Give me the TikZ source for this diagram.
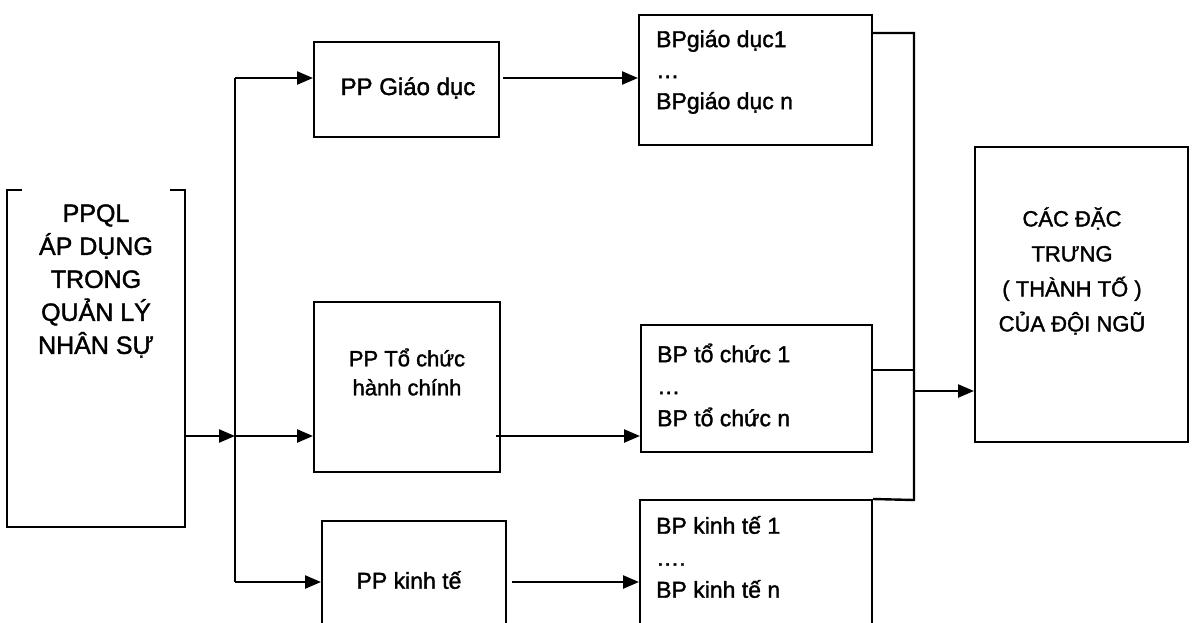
\documentclass[tikz,border=0pt]{standalone}
\usepackage{fontspec}
\setmainfont{Liberation Sans}[FakeBold=1.5]
\usetikzlibrary{arrows.meta}
\begin{document}
\begin{tikzpicture}[x=1pt,y=-1pt,
  box/.style={draw, line width=2pt, rectangle, inner sep=0pt},
  ghost/.style={rectangle, inner sep=0pt},
  txt/.style={inner sep=0pt, align=center},
  ltxt/.style={inner sep=0pt, align=left, anchor=west},
  ln/.style={line width=2.4pt},
  arr/.style={line width=2.4pt, -{Triangle[length=16pt,width=13pt]}}]
\useasboundingbox (0,0) rectangle (1194,622);
\clip (0,0) rectangle (1194,622);
\fill[white] (0,0) rectangle (1194,622);

% left box (top edge broken)
\node[ghost, minimum width=178pt, minimum height=337pt] (L) at (96,358.5) {};
\draw[line width=2pt] ([xshift=15pt]L.north west) -- (L.north west) -- (L.south west) -- (L.south east) -- (L.north east) -- ([xshift=-15pt]L.north east);
\node[txt, font=\fontsize{25}{33}\selectfont] (Lt) at (96,281) {PPQL\\ÁP DỤNG\\TRONG\\QUẢN LÝ\\NHÂN SỰ};

% PP boxes
\node[box, minimum width=185pt, minimum height=95pt] (G) at (406.5,89.5) {};
\node[txt, font=\fontsize{24}{29}\selectfont] (Gt) at (408,88) {PP Giáo dục};
\node[box, minimum width=186pt, minimum height=170pt] (T) at (407,387) {};
\node[txt, font=\fontsize{22}{29}\selectfont] (Tt) at (407,372) {PP Tổ chức\\hành chính};
\node[box, minimum width=184pt, minimum height=140pt] (K) at (414,591) {};
\node[txt, font=\fontsize{23}{29}\selectfont] (Kt) at (409,580) {PP kinh tế};

% BP boxes
\node[box, minimum width=233pt, minimum height=130pt] (BG) at (755.5,80) {};
\node[ltxt, font=\fontsize{23}{31}\selectfont] (BGt) at (656,72) {BPgiáo dục1\\…\\BPgiáo dục n};
\node[box, minimum width=231pt, minimum height=127pt] (BT) at (756.5,388.5) {};
\node[ltxt, font=\fontsize{23}{32}\selectfont] (BTt) at (657,385) {BP tổ chức 1\\…\\BP tổ chức n};
\node[box, minimum width=232pt, minimum height=150pt] (BK) at (756,575) {};
\node[ltxt, font=\fontsize{23}{32}\selectfont] (BKt) at (656,557) {BP kinh tế 1\\….\\BP kinh tế n};

% right box
\node[box, minimum width=213pt, minimum height=295pt] (R) at (1081.5,294.5) {};
\node[txt, font=\fontsize{22}{35}\selectfont] (Rt) at (1072,271) {CÁC ĐẶC\\TRƯNG\\( THÀNH TỐ )\\CỦA ĐỘI NGŨ};

% junctions
\coordinate (J1) at (235,78);
\coordinate (J2) at (235,436);
\coordinate (J3) at (235,582);
\coordinate (P1) at (914,33);
\coordinate (P2) at (914,500);
\coordinate (P3) at (914,370);
\coordinate (P4) at (914,391);

% left connectors
\draw[arr] (L.east |- J2) -- (J2);
\draw[ln] (J1) -- (J3);
\draw[arr] (J1) -- (G.west |- J1);
\draw[arr] (J2) -- (T.west |- J2);
\draw[arr] (J3) -- (K.west |- J3);

% middle connectors
\draw[arr] ([xshift=3pt]G.east |- J1) -- (BG.west |- J1);
\draw[arr] ([xshift=-5pt]T.east |- J2) -- (BT.west |- J2);
\draw[arr] ([xshift=5pt]K.east |- J3) -- (BK.west |- J3);

% right connectors
\draw[ln] (BG.east |- P1) -- (P1) -- (P2) -- (BK.north east);
\draw[ln] (BT.east |- P3) -- (P3);
\draw[arr] (P4) -- (R.west |- P4);
\end{tikzpicture}
\end{document}
